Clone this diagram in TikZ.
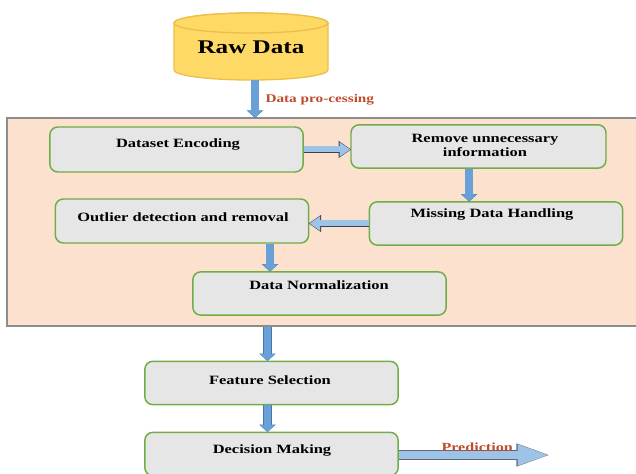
\documentclass[tikz,border=0pt]{standalone}
\usepackage{fontspec}
\newfontfamily\figfont[FakeStretch=1.3]{Liberation Serif}
\usetikzlibrary{arrows.meta}

\definecolor{panelfill}{RGB}{252,226,206}
\definecolor{panelline}{RGB}{140,140,140}
\definecolor{boxfill}{RGB}{231,230,230}
\definecolor{boxline}{RGB}{112,173,71}
\definecolor{cylfill}{RGB}{255,217,102}
\definecolor{cylline}{RGB}{236,190,75}
\definecolor{hfill}{RGB}{157,195,230}
\definecolor{hline}{RGB}{55,65,85}
\definecolor{vfill}{RGB}{105,160,215}
\definecolor{vline}{RGB}{70,120,170}
\definecolor{labred}{RGB}{190,75,45}

\tikzset{every picture/.style={line width=0.75pt}}

\begin{document}
\begin{tikzpicture}[x=0.75pt,y=0.75pt,yscale=-1,xscale=1,
  stepbox/.style={draw=boxline, fill=boxfill, line width=1.1pt, rounded corners=6pt, minimum width=190pt, minimum height=32.5pt},
  boxtext/.style={font=\figfont\bfseries\fontsize{9.5}{10.5}\selectfont, align=center, inner sep=0pt},
  flowlabel/.style={font=\figfont\bfseries\fontsize{8.8}{10}\selectfont, text=labred, inner sep=0pt, anchor=west},
  hflow/.style={draw=hfill, line width=4.5pt, -{Triangle[length=8pt,width=10.5pt]},
    preaction={draw=hline, line width=5.4pt, -{Triangle[length=9.3pt,width=12.2pt]}, shorten >=-0.6pt}},
  vflow/.style={draw=vfill, line width=5.6pt, -{Triangle[length=5pt,width=11pt]},
    preaction={draw=vline, line width=6.3pt, -{Triangle[length=5.6pt,width=12pt]}, shorten >=-0.4pt}},
  pflow/.style={draw=hfill, line width=6.4pt, -{Triangle[length=25pt,width=13.8pt]},
    preaction={draw=hline!80, line width=7.2pt, -{Triangle[length=26.5pt,width=15pt]}, shorten >=-0.6pt}}
]
\useasboundingbox (0,0) rectangle (636,474);

%Shape: Cylinder [id:raw data]
\draw [draw=cylline, fill=cylfill, line width=1pt] (174,23) -- (174,70) arc [start angle=180, end angle=0, x radius=77, y radius=10] -- (328,23) arc [start angle=0, end angle=-180, x radius=77, y radius=10] -- cycle ;
\draw [draw=cylline, fill=cylfill, line width=1pt] (251,23) ellipse [x radius=77, y radius=10] ;
\node [font=\figfont\bfseries\fontsize{14.5}{16}\selectfont, inner sep=0pt] (raw) at (251,47) {Raw Data};
\coordinate (rawbot) at (255,80);

%Shape: Rectangle [id:pre-processing panel]
\node [draw=panelline, fill=panelfill, line width=0.9pt, minimum width=474.75pt, minimum height=156pt, inner sep=0pt] (panel) at (323.5,222) {};

%Shape: Rounded Rect [id:steps]
\node [stepbox, minimum height=33.75pt] (b1) at (176.5,149.5) {};
\node [stepbox, minimum width=191.25pt] (b2) at (478.5,146.5) {};
\node [stepbox] (b3) at (496,223.5) {};
\node [stepbox, minimum height=33pt] (b4) at (182,221) {};
\node [stepbox] (b5) at (319.5,293.5) {};
\node [stepbox] (fs) at (271.5,383) {};
\node [stepbox] (dm) at (271.5,454) {};

% Text Node
\node [boxtext] (t1) at (178,145) {Dataset Encoding};
\node [boxtext] (t2) at (485,145) {Remove unnecessary\\information};
\node [boxtext] (t3) at (492,215) {Missing Data Handling};
\node [boxtext] (t4) at (183,217) {Outlier detection and removal};
\node [boxtext] (t5) at (319,285) {Data Normalization};
\node [boxtext] (t6) at (270,380) {Feature Selection};
\node [boxtext] (t7) at (272,451) {Decision Making};

%Straight Lines [id:block arrows]
\draw [vflow] (rawbot) -- (rawbot |- panel.north) ;
\draw [hflow] (b1.east) -- (b1.east -| b2.west) ;
\draw [vflow] ([xshift=-7pt]b2.south) -- ([xshift=-7pt]b2.south |- b3.north) ;
\draw [hflow] (b3.west) -- (b3.west -| b4.east) ;
\draw [vflow] ([xshift=66pt]b4.south) -- ([xshift=66pt]b4.south |- b5.north) ;
\draw [vflow] ([xshift=-3pt]fs.north |- panel.south) -- ([xshift=-3pt]fs.north) ;
\draw [vflow] ([xshift=-3pt]fs.south) -- ([xshift=-3pt]dm.north) ;
\coordinate (pred) at (551,455);
\draw [pflow] (dm.east |- pred) -- (pred) ;

% Text Node
\node [flowlabel] (lab1) at (265,100) {Data pro-cessing};
\node [flowlabel, font=\figfont\bfseries\fontsize{9.3}{10}\selectfont] (lab2) at (441,447) {Prediction};

\end{tikzpicture}
\end{document}
